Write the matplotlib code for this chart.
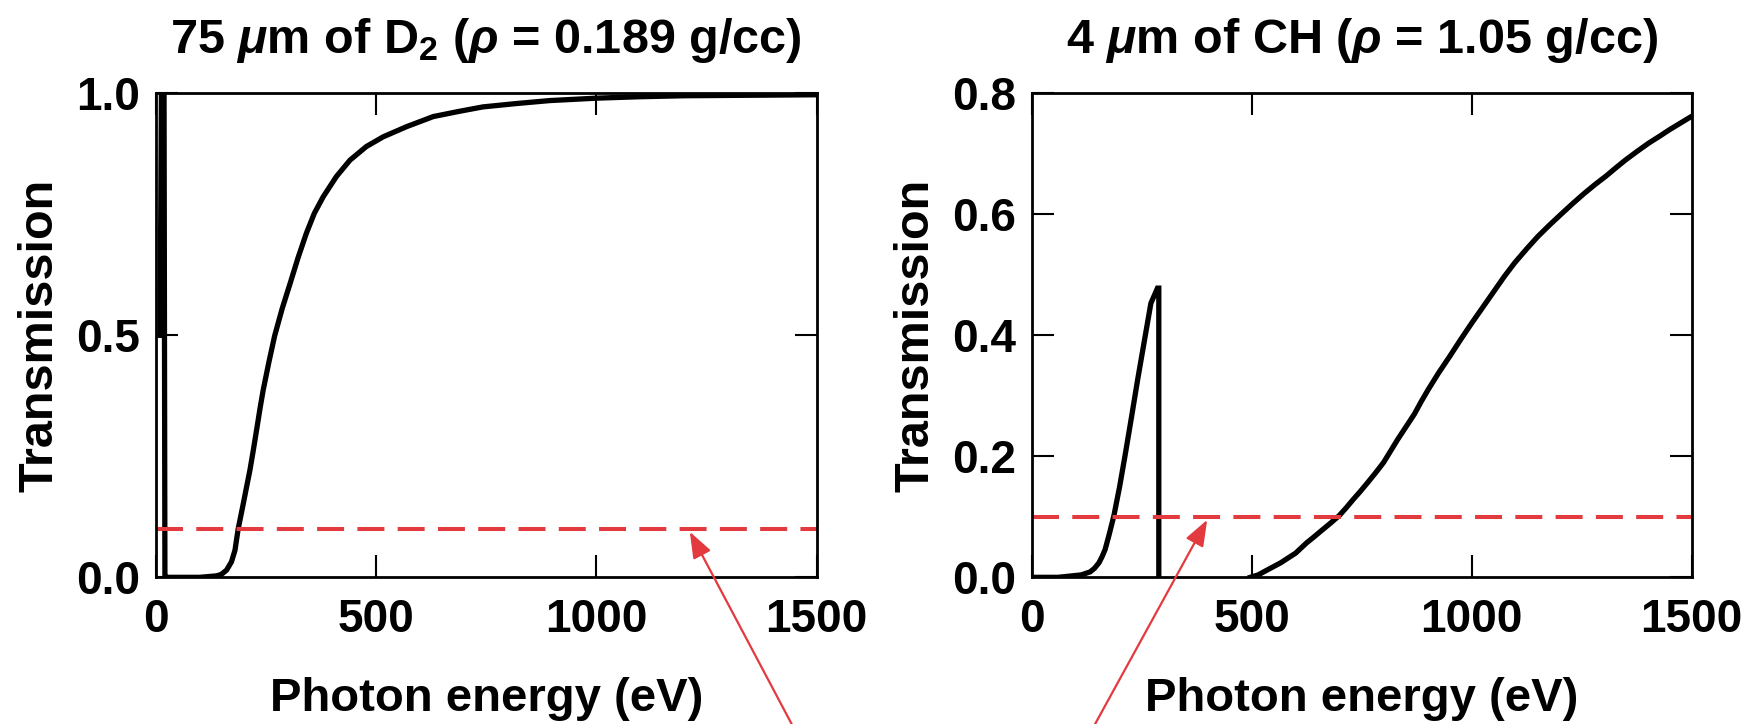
import numpy as np
import matplotlib
matplotlib.use('Agg')
import matplotlib.pyplot as plt

# 75 um of D2: photon energy (eV) vs transmission
d2_energy = [10, 13, 19, 21, 25, 60, 100, 138, 149, 161, 172, 180, 187, 199, 207, 214, 222,
             230, 237, 244, 257, 270, 287, 305, 323, 342, 360, 380, 410, 441, 478, 516, 569,
             630, 690, 743, 820, 894, 1000, 1100, 1200, 1350, 1500]
d2_trans = [0.5, 1.0, 1.0, 0.0, 0.0, 0.0, 0.0, 0.003, 0.006, 0.015, 0.032, 0.056, 0.099,
            0.153, 0.19, 0.222, 0.265, 0.31, 0.35, 0.387, 0.445, 0.499, 0.555, 0.607, 0.66,
            0.711, 0.752, 0.786, 0.828, 0.862, 0.89, 0.910, 0.931, 0.952, 0.963, 0.972,
            0.979, 0.985, 0.99, 0.993, 0.995, 0.996, 0.997]

# 4 um of CH: below and above the carbon K edge
ch_low_energy = [5, 60, 113, 133, 143, 153, 160, 167, 177, 187, 200, 212, 227, 241, 256,
                 271, 286, 289, 289]
ch_low_trans = [0.0, 0.0, 0.004, 0.009, 0.015, 0.024, 0.034, 0.046, 0.073, 0.102, 0.15,
                0.2, 0.265, 0.327, 0.39, 0.453, 0.478, 0.478, 0.0]
ch_high_energy = [497, 515, 530, 548, 566, 583, 600, 625, 642, 660, 680, 699, 715, 730, 747,
                  763, 782, 800, 816, 832, 851, 870, 885, 901, 925, 950, 975, 1000, 1025,
                  1050, 1074, 1098, 1124, 1150, 1178, 1206, 1230, 1255, 1280, 1305, 1328,
                  1350, 1376, 1403, 1427, 1450, 1475, 1500]
ch_high_trans = [0.0, 0.004, 0.01, 0.017, 0.024, 0.032, 0.04, 0.057, 0.067, 0.078, 0.09,
                 0.102, 0.115, 0.128, 0.142, 0.156, 0.173, 0.19, 0.209, 0.228, 0.249, 0.27,
                 0.29, 0.31, 0.338, 0.365, 0.393, 0.42, 0.446, 0.472, 0.497, 0.52, 0.542,
                 0.563, 0.583, 0.602, 0.618, 0.634, 0.649, 0.663, 0.677, 0.69, 0.704, 0.718,
                 0.729, 0.74, 0.751, 0.762]

threshold = 0.1
titles = [r'75 $\mu$m of D$_2$ ($\rho$ = 0.189 g/cc)', r'4 $\mu$m of CH ($\rho$ = 1.05 g/cc)']
x_ticks = [0, 500, 1000, 1500]
d2_yticks = [0.0, 0.5, 1.0]
ch_yticks = [0.0, 0.2, 0.4, 0.6, 0.8]
arrow_tips = [(1212, 0.094), (399, 0.095)]
arrow_tails = [(0.4516, 0.0), (0.6247, 0.0)]

red = '#e23a3f'

plt.rcParams['font.family'] = ['Liberation Sans', 'DejaVu Sans']
plt.rcParams['font.weight'] = 'bold'
plt.rcParams['mathtext.fontset'] = 'custom'
plt.rcParams['mathtext.rm'] = 'Liberation Sans:bold'
plt.rcParams['mathtext.it'] = 'Liberation Sans:italic:bold'
plt.rcParams['mathtext.bf'] = 'Liberation Sans:bold'

fig = plt.figure(figsize=(17.53, 7.24), dpi=100)
ax1 = fig.add_axes([0.0888, 0.2026, 0.3771, 0.6685])
ax2 = fig.add_axes([0.5885, 0.2026, 0.3765, 0.6685])

ax1.plot(d2_energy, d2_trans, color='black', lw=3.8, solid_joinstyle='round')
ax2.plot(ch_low_energy, ch_low_trans, color='black', lw=3.8, solid_joinstyle='miter')
ax2.plot(ch_high_energy, ch_high_trans, color='black', lw=3.8, solid_joinstyle='round')

for ax, yt, ymax, title in [(ax1, d2_yticks, 1.0, titles[0]), (ax2, ch_yticks, 0.8, titles[1])]:
    ax.axhline(threshold, color=red, lw=2.9, ls=(0, (6.7, 3.3)))
    ax.set_xlim(0, 1500)
    ax.set_ylim(0, ymax)
    ax.set_xticks(x_ticks)
    ax.set_yticks(yt)
    ax.set_yticklabels([f'{v:.1f}' for v in yt])
    ax.tick_params(direction='in', length=16, width=1.5, top=True, right=True, labelsize=33)
    ax.tick_params(axis='x', pad=15)
    ax.tick_params(axis='y', pad=11)
    for s in ax.spines.values():
        s.set_linewidth(2)
    ax.set_xlabel('Photon energy (eV)', fontsize=34, fontweight='bold', labelpad=25)
    ax.set_ylabel('Transmission', fontsize=35, fontweight='bold', labelpad=10)
    ax.set_title(title, fontsize=35, fontweight='bold', pad=29)

for ax, tip, tail in zip([ax1, ax2], arrow_tips, arrow_tails):
    ax.annotate('', xy=tip, xycoords='data', xytext=tail, textcoords='figure fraction',
                arrowprops=dict(arrowstyle='-|>,head_length=0.4,head_width=0.15',
                                color=red, lw=1.6, mutation_scale=40,
                                shrinkA=0, shrinkB=0),
                annotation_clip=False)

fig.savefig('out.png', dpi=100)
